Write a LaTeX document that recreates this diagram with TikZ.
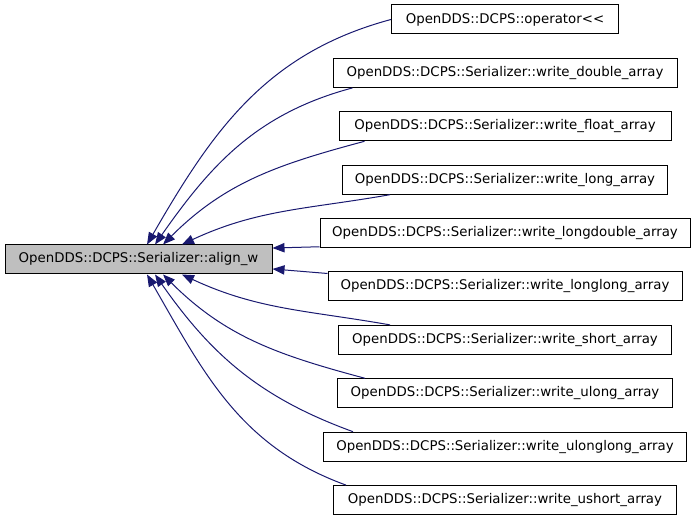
\documentclass[tikz,border=0pt]{standalone}
\usepackage{fontspec}
\setmainfont{DejaVu Sans}
\usepackage{xcolor}
\usetikzlibrary{arrows.meta}

\definecolor{edgeblue}{HTML}{191970}

\begin{document}
\begin{tikzpicture}[x=0.75pt,y=0.75pt,
fn/.style={draw=black,line width=0.75pt,inner sep=0pt,minimum height=21.75pt,font=\fontsize{10}{12}\selectfont},
calls/.style={draw=edgeblue,line width=0.75pt,-{Triangle[length=9pt,width=7pt,fill=edgeblue]}}
]
\useasboundingbox (0,0) rectangle (696,520);
\node[fn,fill=black!25,minimum width=200.25pt] (alignw) at (138.5,260.5) {OpenDDS::DCPS::Serializer::align\_w};
\foreach \nm/\txt/\bw [count=\i] in {
op/operator<{}</170.25,
dbl/Serializer::write\_double\_array/258,
flt/Serializer::write\_float\_array/249,
lng/Serializer::write\_long\_array/243.75,
ldbl/Serializer::write\_longdouble\_array/277.5,
llng/Serializer::write\_longlong\_array/265.5,
shrt/Serializer::write\_short\_array/249.75,
ulng/Serializer::write\_ulong\_array/251.25,
ullng/Serializer::write\_ulonglong\_array/272.25,
ushrt/Serializer::write\_ushort\_array/257.25}
  \node[fn,minimum width=\bw pt] (\nm) at (505,{500.5-(\i-1)*53.4}) {OpenDDS::DCPS::\txt};
% callers above
\draw[calls] (op.west) to[out=195,in=60] ([xshift=6.4pt]alignw.north);
\draw[calls] ([xshift=15pt]dbl.south west) to[out=195,in=55] ([xshift=12.4pt]alignw.north);
\draw[calls] ([xshift=19.5pt]flt.south west) to[out=195,in=45] ([xshift=18.4pt]alignw.north);
\draw[calls] ([xshift=36pt]lng.south west) to[out=190,in=25] ([xshift=32.6pt]alignw.north);
% callers beside
\draw[calls] ([yshift=1pt]ldbl.south west) -- ([yshift=8.6pt]alignw.east);
\draw[calls] ([yshift=-1.5pt]llng.north west) -- ([yshift=-7.1pt]alignw.east);
% callers below
\draw[calls] ([xshift=39pt]shrt.north west) to[out=170,in=-25] ([xshift=32.6pt]alignw.south);
\draw[calls] ([xshift=21pt]ulng.north west) to[out=165,in=-45] ([xshift=18.4pt]alignw.south);
\draw[calls] ([xshift=22.5pt]ullng.north west) to[out=160,in=-55] ([xshift=12.4pt]alignw.south);
\draw[calls] ([xshift=9.75pt]ushrt.north west) to[out=160,in=-60] ([xshift=6.4pt]alignw.south);
\end{tikzpicture}
\end{document}
